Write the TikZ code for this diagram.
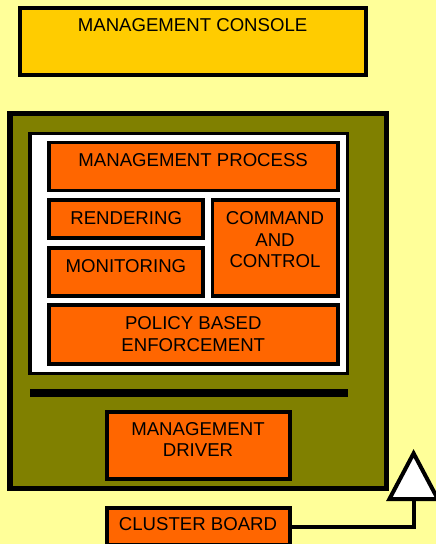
\documentclass[tikz,border=0pt]{standalone}
\usepackage{fontspec}
\setmainfont{Liberation Sans}
\usetikzlibrary{arrows.meta}
\definecolor{bgyellow}{HTML}{FFFF99}
\definecolor{consolefill}{HTML}{FFCC00}
\definecolor{olivefill}{HTML}{808000}
\definecolor{orangefill}{HTML}{FF6600}
\tikzset{
  box/.style={draw=black, rectangle, inner sep=0pt},
  orangebox/.style={box, fill=orangefill, line width=3.7pt},
  lbl/.style={anchor=north, inner sep=0pt, align=center, font=\fontsize{18.6}{21.5}\selectfont},
  link/.style={draw=black, line width=4pt, -{Triangle[length=52pt, width=54pt, fill=white]}}
}
\begin{document}
\begin{tikzpicture}[x=1pt,y=-1pt]
\useasboundingbox (0,0) rectangle (436,544);
\fill[bgyellow] (0,0) rectangle (436,544);
% management console
\node[box, fill=consolefill, line width=4pt, minimum width=346pt, minimum height=67pt] (console) at (193.3,41.5) {};
\node[lbl] (consolet) at (192.6,18.3) {MANAGEMENT CONSOLE};
% olive outer container
\node[box, fill=olivefill, line width=5.3pt, minimum width=376.3pt, minimum height=374.6pt] (outer) at (198.2,301) {};
% white inner container
\node[box, fill=white, line width=3.3pt, minimum width=317.3pt, minimum height=240pt] (inner) at (188.7,253.3) {};
% management process
\node[orangebox, minimum width=289pt, minimum height=48pt] (mp) at (193.7,166.5) {};
\node[lbl] (mpt) at (193.2,153.3) {MANAGEMENT PROCESS};
% rendering
\node[orangebox, minimum width=154pt, minimum height=38pt] (rend) at (126.2,219.2) {};
\node[lbl] (rendt) at (126.2,211.7) {RENDERING};
% monitoring
\node[orangebox, minimum width=154pt, minimum height=48pt] (mon) at (126.2,271.8) {};
\node[lbl] (mont) at (125.9,259) {MONITORING};
% command and control
\node[orangebox, minimum width=125.7pt, minimum height=95.6pt] (cc) at (275.3,248) {};
\node[lbl] (cct) at (275,211.7) {COMMAND\\AND\\CONTROL};
% policy based enforcement
\node[orangebox, minimum width=289pt, minimum height=59pt] (pol) at (193.7,334.7) {};
\node[lbl] (polt) at (193.3,316.7) {POLICY BASED\\ENFORCEMENT};
% black bar
\node[rectangle, fill=black, inner sep=0pt, minimum width=318pt, minimum height=8pt] (bar) at (189,393) {};
% management driver
\node[box, fill=orangefill, line width=4pt, minimum width=182.7pt, minimum height=66.7pt] (drv) at (198.3,445.3) {};
\node[lbl] (drvt) at (198,422.3) {MANAGEMENT\\DRIVER};
% cluster board
\node[box, fill=orangefill, line width=4pt, minimum width=182.7pt, minimum height=37.6pt] (cb) at (198.3,526.5) {};
\node[lbl] (cbt) at (198,517.7) {CLUSTER BOARD};
% connector with hollow triangle
\coordinate (tip) at (413.6,449);
\draw[link] (cb.east) -| (tip);
\end{tikzpicture}
\end{document}
